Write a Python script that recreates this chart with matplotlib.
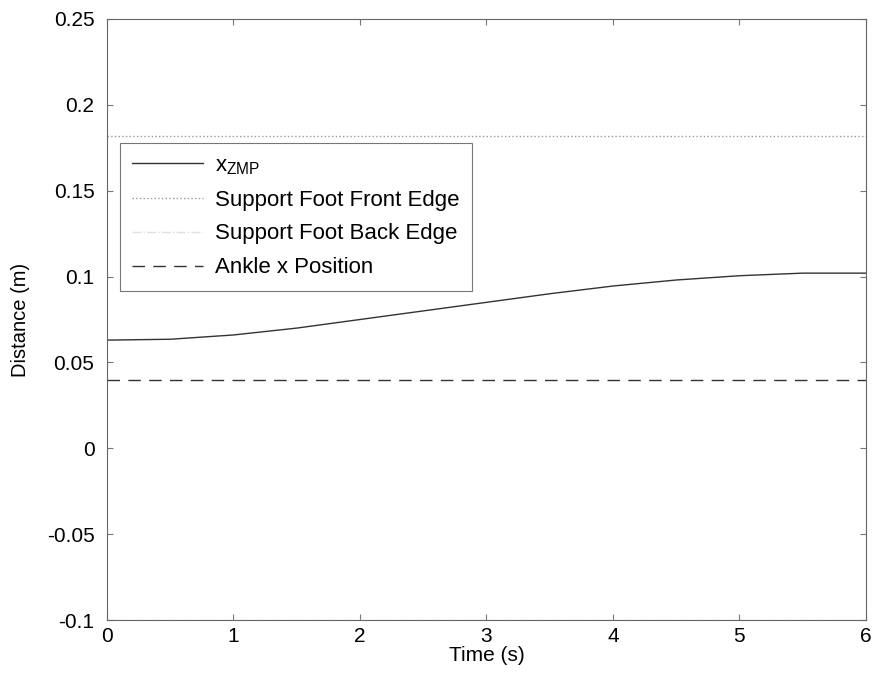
import matplotlib.pyplot as plt

plt.rcParams['font.family'] = ['Liberation Sans', 'DejaVu Sans']

# time axis and ZMP trajectory
time = [0, 0.5, 1, 1.5, 2, 2.5, 3, 3.5, 4, 4.5, 5, 5.5, 6]
x_zmp = [0.063, 0.0635, 0.066, 0.070, 0.075, 0.080, 0.085, 0.090,
         0.0945, 0.098, 0.1005, 0.102, 0.102]

front_edge = 0.182
back_edge = -0.1
ankle_x = 0.04

fig = plt.figure(figsize=(8.74, 6.83), dpi=100)
ax = fig.add_axes([0.1224, 0.0922, 0.8684, 0.88])

ax.plot(time, x_zmp, color='#333333', linestyle='-', linewidth=1.0,
        label=r'x$\mathregular{_{ZMP}}$')
ax.plot([time[0], time[-1]], [front_edge, front_edge], color='#999999',
        linestyle=':', linewidth=1.0, label='Support Foot Front Edge')
ax.plot([time[0], time[-1]], [back_edge, back_edge], color='#e0e0e0',
        linestyle='-.', linewidth=1.0, label='Support Foot Back Edge')
ax.plot([time[0], time[-1]], [ankle_x, ankle_x], color='#333333',
        linestyle=(0, (9, 6)), linewidth=1.0, label='Ankle x Position')

ax.set_xlim(0, 6)
ax.set_ylim(-0.1, 0.25)
ax.set_xticks(range(0, 7))
ax.set_yticks([-0.1, -0.05, 0, 0.05, 0.1, 0.15, 0.2, 0.25])
ax.set_yticklabels(['-0.1', '-0.05', '0', '0.05', '0.1', '0.15', '0.2', '0.25'])
ax.tick_params(direction='in', top=True, right=True, labelsize=15, length=4,
               color='#777777')
ax.tick_params(axis='y', pad=9)
ax.tick_params(axis='x', pad=5)
for s in ax.spines.values():
    s.set_color('#666666')
    s.set_linewidth(0.8)

ax.set_xlabel('Time (s)', fontsize=15, labelpad=0)
ax.set_ylabel('Distance (m)', fontsize=14.5, labelpad=12)

leg = ax.legend(loc='upper left', bbox_to_anchor=(0.017, 0.794), fontsize=16,
                frameon=True, fancybox=False, handlelength=3.2,
                labelspacing=0.58, borderpad=0.55, handletextpad=0.55,
                borderaxespad=0)
leg.get_frame().set_edgecolor('#555555')
leg.get_frame().set_linewidth(0.8)

plt.savefig('out.png', dpi=100)
